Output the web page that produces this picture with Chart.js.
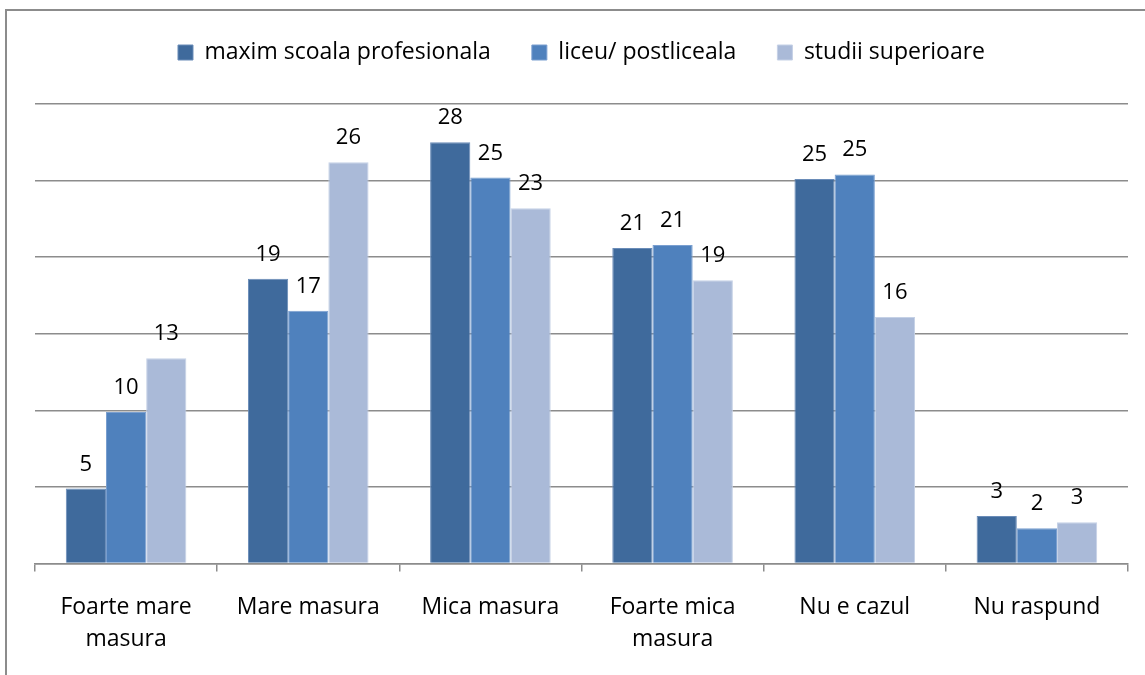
<!DOCTYPE html>
<html>
<head>
<meta charset="utf-8">
<script src="https://cdn.jsdelivr.net/npm/chart.js@4.4.0/dist/chart.umd.min.js"></script>
<style>
  html, body { margin: 0; padding: 0; background: #fff; overflow: hidden; }
  #frame { position: absolute; left: 5px; top: 9px; width: 1200px; height: 720px; border: 2px solid #8c8c8c; }
  #wrap { position: absolute; left: 0; top: 0; width: 1145px; height: 676px; }
</style>
</head>
<body>
<div id="frame"></div>
<div id="wrap"><canvas id="barChart"></canvas></div>
<script>
// categorii si serii
const categories = [['Foarte mare', 'masura'], 'Mare masura', 'Mica masura', ['Foarte mica', 'masura'], 'Nu e cazul', 'Nu raspund'];
const seriesNames = ['maxim scoala profesionala', 'liceu/ postliceala', 'studii superioare'];
const maximScoala = [4.9, 18.6, 27.5, 20.6, 25.1, 3.1];
const liceu = [9.9, 16.5, 25.2, 20.8, 25.4, 2.3];
const superioare = [13.4, 26.2, 23.2, 18.5, 16.1, 2.7];
const yTicks = [0, 5, 10, 15, 20, 25, 30];

const colors = ['#3f6a9c', '#4f81bd', '#aabad8'];
const edges = ['#6a8cb8', '#7a9fd0', '#c5d1e6'];
const FONT = '"Open Sans", sans-serif';

// --- etichete de valori deasupra barelor ---
const valueLabels = {
    id: 'valueLabels',
    afterDatasetsDraw(chart) {
        const ctx = chart.ctx;
        ctx.save();
        ctx.font = '22px ' + FONT;
        ctx.fillStyle = '#000';
        ctx.textAlign = 'center';
        ctx.textBaseline = 'alphabetic';
        chart.data.datasets.forEach((ds, i) => {
            chart.getDatasetMeta(i).data.forEach((bar, j) => {
                ctx.fillText(String(Math.round(ds.data[j])), bar.x, bar.y - 18);
            });
        });
        ctx.restore();
    }
};

// spatiu suplimentar sub legenda
const legendMargin = {
    id: 'legendMargin',
    beforeInit(chart) {
        const fit = chart.legend.fit;
        chart.legend.fit = function () {
            fit.bind(chart.legend)();
            this.height += 30;
        };
    }
};

const ctx = document.getElementById('barChart').getContext('2d');
window.barChart = new Chart(ctx, {
    type: 'bar',
    data: {
        labels: categories,
        datasets: [
            { label: seriesNames[0], data: maximScoala, backgroundColor: colors[0], borderColor: edges[0], borderWidth: 1 },
            { label: seriesNames[1], data: liceu, backgroundColor: colors[1], borderColor: edges[1], borderWidth: 1 },
            { label: seriesNames[2], data: superioare, backgroundColor: colors[2], borderColor: edges[2], borderWidth: 1 }
        ]
    },
    options: {
        responsive: true,
        maintainAspectRatio: false,
        animation: false,
        categoryPercentage: 0.662,
        barPercentage: 1,
        layout: { padding: { top: 0, right: 17, bottom: 0, left: 35 } },
        plugins: {
            legend: {
                position: 'top',
                labels: {
                    boxWidth: 15, boxHeight: 15, padding: 41,
                    color: '#000', font: { family: FONT, size: 23 }
                }
            },
            tooltip: { enabled: false }
        },
        scales: {
            x: {
                offset: true,
                grid: { display: true, drawOnChartArea: false, offset: true, color: '#8c8c8c', lineWidth: 1.5, tickLength: 8 },
                border: { display: true, color: '#8c8c8c', width: 1.5 },
                ticks: { color: '#000', font: { family: FONT, size: 23, lineHeight: 1.4 }, padding: 20, maxRotation: 0 }
            },
            y: {
                min: yTicks[0],
                max: yTicks[yTicks.length - 1],
                afterBuildTicks: axis => { axis.ticks = yTicks.map(v => ({ value: v })); },
                ticks: { display: false },
                border: { display: false },
                grid: { color: '#8c8c8c', lineWidth: 1.5, drawTicks: false }
            }
        }
    },
    plugins: [valueLabels, legendMargin]
});
</script>
</body>
</html>
